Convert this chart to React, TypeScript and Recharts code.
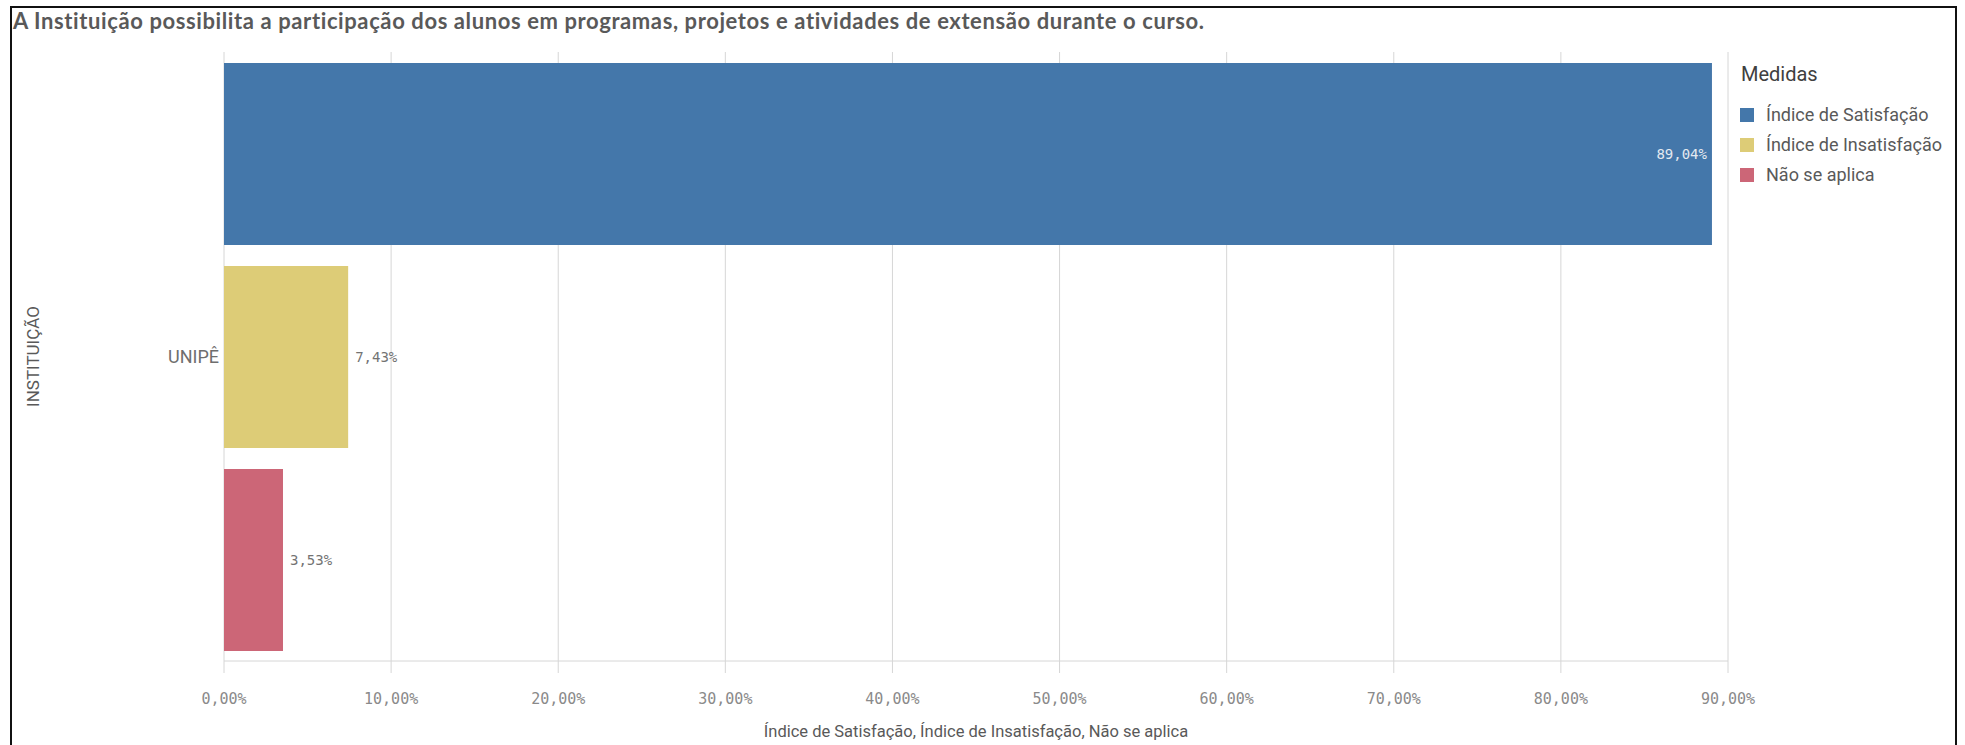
import React from 'react';
import { BarChart, Bar, XAxis, YAxis, CartesianGrid, LabelList } from 'recharts';

const categories = ['UNIPÊ'];
const seriesNames = ['Índice de Satisfação', 'Índice de Insatisfação', 'Não se aplica'];
const seriesKeys = ['sat', 'ins', 'na'];
const seriesColors = ['#4477aa', '#ddcc77', '#cc6677'];
const satisfacao = [89.04];
const insatisfacao = [7.43];
const naoSeAplica = [3.53];
const xTicks = [0, 10, 20, 30, 40, 50, 60, 70, 80, 90];

const title = 'A Instituição possibilita a participação dos alunos em programas, projetos e atividades de extensão durante o curso.';
const yTitle = 'INSTITUIÇÃO';
const xTitle = 'Índice de Satisfação, Índice de Insatisfação, Não se aplica';
const legendTitle = 'Medidas';

const data = categories.map((c, i) => ({
  inst: c,
  sat: satisfacao[i],
  ins: insatisfacao[i],
  na: naoSeAplica[i],
}));

const fmt = (v: any) => Number(v).toFixed(2).replace('.', ',') + '%';

const monoFont = '"DejaVu Sans Mono", monospace';
const sansFont = 'Roboto, "Noto Sans", sans-serif';

export default function App() {
  return (
    <div style={{ position: 'absolute', left: 0, top: 0, width: 1965, height: 745, overflow: 'hidden', background: '#fff' }}>
      <div style={{ position: 'absolute', left: 10, top: 6, width: 1943, height: 800, border: '2px solid #111' }} />
      <div style={{ position: 'absolute', left: 13, top: 8, fontFamily: 'Lato, sans-serif', fontWeight: 700, fontSize: 22, letterSpacing: 0.6, lineHeight: '26px', color: '#595959', whiteSpace: 'nowrap' }}>
        {title}
      </div>
      <div style={{ position: 'absolute', left: 0, top: 0 }}>
        <BarChart
          width={1965}
          height={745}
          data={data}
          layout="vertical"
          margin={{ top: 52, right: 237, left: 0, bottom: 0 }}
          barCategoryGap={11}
          barGap={21}
        >
          <CartesianGrid horizontal={false} vertical={true} stroke="#d6d6d6" strokeWidth={1} />
          <XAxis
            type="number"
            domain={[0, 90]}
            ticks={xTicks}
            tickFormatter={fmt}
            height={84}
            tickSize={12}
            tickMargin={20}
            interval={0}
            axisLine={{ stroke: '#d6d6d6' }}
            tickLine={{ stroke: '#d6d6d6' }}
            tick={{ fill: '#8a8a8a', fontSize: 15, fontFamily: monoFont }}
            label={{ value: xTitle, position: 'insideBottom', offset: 8, fill: '#595959', fontSize: 16.5, fontFamily: sansFont }}
          />
          <YAxis
            type="category"
            dataKey="inst"
            width={224}
            axisLine={false}
            tickLine={false}
            tickSize={0}
            tickMargin={5}
            tick={{ fill: '#6e6e6e', fontSize: 18, fontFamily: sansFont }}
            label={{
              value: yTitle,
              content: (props: any) => {
                const vb = props.viewBox || {};
                const cy = (vb.y || 0) + (vb.height || 0) / 2;
                return (
                  <text
                    x={33}
                    y={cy}
                    transform={`rotate(-90, 33, ${cy})`}
                    textAnchor="middle"
                    dominantBaseline="central"
                    fill="#595959"
                    fontSize={17}
                    fontFamily={sansFont}
                  >
                    {yTitle}
                  </text>
                );
              },
            }}
          />
          {seriesKeys.map((k, i) => (
            <Bar key={k} dataKey={k} name={seriesNames[i]} fill={seriesColors[i]} isAnimationActive={false}>
              <LabelList
                dataKey={k}
                position={i === 0 ? 'insideRight' : 'right'}
                offset={i === 0 ? 5 : 7}
                formatter={fmt}
                fill={i === 0 ? '#e3e9f0' : '#737373'}
                fontSize={14}
                fontFamily={monoFont}
              />
            </Bar>
          ))}
        </BarChart>
      </div>
      <div style={{ position: 'absolute', left: 1741, top: 62, fontFamily: sansFont, fontSize: 20, lineHeight: '24px', color: '#404040' }}>
        {legendTitle}
      </div>
      {seriesNames.map((n, i) => (
        <div key={n} style={{ position: 'absolute', left: 1740, top: 103 + i * 30, height: 24, display: 'flex', alignItems: 'center', whiteSpace: 'nowrap' }}>
          <div style={{ width: 14, height: 14, background: seriesColors[i], marginRight: 12 }} />
          <span style={{ fontFamily: sansFont, fontSize: 18, color: '#595959', lineHeight: '24px' }}>{n}</span>
        </div>
      ))}
    </div>
  );
}
